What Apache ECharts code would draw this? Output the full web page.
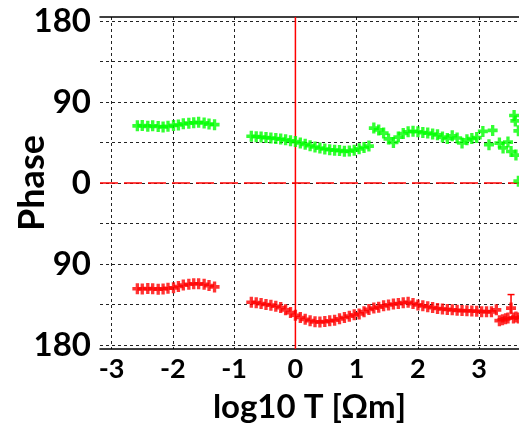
<!DOCTYPE html>
<html>
<head>
<meta charset="utf-8">
<script src="https://cdn.jsdelivr.net/npm/echarts@6/dist/echarts.min.js"></script>
<style>html,body{margin:0;padding:0;background:#fff;}#c{width:519px;height:433px;}</style>
</head>
<body>
<div id="c"></div>
<script>
// log10 period positions and phase values (degrees)
const greenLogT = [-2.58,-2.50,-2.41,-2.33,-2.24,-2.16,-2.08,-1.99,-1.91,-1.83,-1.74,-1.66,-1.58,-1.49,-1.41,-1.32,
  -0.72,-0.64,-0.56,-0.48,-0.40,-0.32,-0.24,-0.16,-0.08,0.00,0.08,0.16,0.24,0.32,0.40,0.48,0.56,0.64,0.72,0.80,0.88,0.96,1.04,1.12,1.20,
  1.28,1.36,1.44,1.52,1.60,1.68,1.76,1.84,1.92,2.00,2.08,2.16,2.24,2.32,2.40,2.48,2.56,2.64,2.72,2.80,2.88,2.96,
  3.06,3.16,3.22,3.33,3.39,3.47,3.52,3.57,3.59,3.60,3.64,3.64];
const greenPhase = [63.5,63.8,63.0,63.6,62.8,62.2,63.0,64.0,64.5,65.8,66.5,67.0,67.4,66.8,65.5,64.8,
  52.0,51.5,51.0,50.5,50.0,49.5,48.8,48.0,47.0,46.0,44.5,43.0,41.5,40.0,38.8,37.8,37.0,36.5,36.0,35.2,35.5,36.5,38.0,39.5,41.0,
  61.0,59.0,55.5,49.0,45.0,51.0,55.0,57.0,57.5,57.0,56.0,55.5,54.5,53.5,51.0,49.5,52.5,50.0,44.5,48.0,49.5,50.5,
  57.3,42.6,58.4,44.4,39.0,45.5,35.0,75.0,69.0,31.0,58.0,2.0];

const redLogT = [-2.58,-2.50,-2.41,-2.33,-2.24,-2.16,-2.08,-1.99,-1.91,-1.83,-1.74,-1.66,-1.58,-1.49,-1.41,-1.32,
  -0.72,-0.64,-0.56,-0.48,-0.40,-0.32,-0.24,-0.16,-0.08,0.00,0.08,0.16,0.24,0.32,0.40,0.48,0.56,0.64,0.72,0.80,0.88,0.96,1.04,1.12,1.20,
  1.28,1.36,1.44,1.52,1.60,1.68,1.76,1.84,1.92,2.00,2.08,2.16,2.24,2.32,2.40,2.48,2.56,2.64,2.72,2.80,2.88,2.96,3.04,3.12,3.20,3.28,
  3.33,3.38,3.43,3.47,3.52,3.56,3.60,3.64];
const redPhase = [-117.5,-117.8,-117.3,-117.6,-118.0,-117.7,-117.0,-116.5,-115.0,-113.5,-112.5,-112.0,-112.0,-112.5,-114.0,-115.5,
  -132.5,-133.0,-134.0,-135.0,-135.8,-137.0,-138.5,-141.0,-144.0,-147.0,-149.5,-151.5,-153.0,-154.3,-154.5,-154.0,-153.2,-152.5,-151.0,-149.5,-148.0,-146.5,-145.5,-143.0,-140.5,
  -139.0,-138.0,-136.5,-135.5,-134.5,-134.0,-133.0,-132.5,-134.0,-135.5,-136.5,-137.5,-138.5,-139.5,-140.0,-140.5,-141.0,-141.5,-141.8,-142.0,-142.3,-142.5,-143.0,-143.0,-143.2,-141.0,
  -153.0,-152.0,-151.0,-150.0,-139.0,-150.0,-149.0,-150.0];

// one error bar with a visible cap: [logT, upper, lower]
const redErrorBars = [[3.52, -124, -146]];

// red reference lines: [logT, phase] origin
const referenceOrigin = [[0, 0]];

const xTicks = [-3,-2,-1,0,1,2,3];
const yGrid = [-180,-135,-90,-45,0,45,90,135,180];
const yLabels = [-180,-90,0,90,180];

const plusPath = 'path://M0,3H3V0H6V3H9V6H6V9H3V6H0Z';
const fontFam = 'Lato, "Noto Sans", sans-serif';
const zip = (a, b) => a.map((v, i) => [v, b[i]]);

const chart = echarts.init(document.getElementById('c'), null, {renderer: 'canvas'});
chart.setOption({
  animation: false,
  backgroundColor: '#fff',
  grid: {left: 100, top: 17, right: 0, bottom: 84, containLabel: false, outerBoundsMode: 'none'},
  xAxis: [{
    type: 'value', min: -3.19, max: 3.65, position: 'bottom',
    axisLine: {show: true, onZero: false, lineStyle: {color: '#000', width: 1.5}},
    axisTick: {show: false, customValues: xTicks},
    axisLabel: {customValues: xTicks, color: '#000', fontFamily: fontFam, fontWeight: 'bold', fontSize: 27, margin: 7},
    splitLine: {show: true, lineStyle: {color: '#222', type: [3, 3], width: 1}},
    name: 'log10 T [Ωm]', nameLocation: 'middle', nameGap: 42, nameMoveOverlap: false,
    nameTextStyle: {color: '#000', fontFamily: fontFam, fontWeight: 'bold', fontSize: 33}
  }, {
    type: 'value', min: -3.19, max: 3.65, position: 'top',
    axisLine: {show: true, onZero: false, lineStyle: {color: '#000', width: 1.5}},
    axisTick: {show: false}, axisLabel: {show: false}, splitLine: {show: false}
  }],
  yAxis: {
    type: 'value', min: -184.5, max: 184.5,
    axisLine: {show: false},
    axisTick: {show: false, customValues: yGrid},
    axisLabel: {customValues: yLabels, formatter: v => String(Math.abs(v)), color: '#000',
      fontFamily: fontFam, fontWeight: 'bold', fontSize: 33, margin: 9},
    splitLine: {show: true, lineStyle: {color: '#222', type: [3, 3], width: 1}},
    name: 'Phase', nameLocation: 'middle', nameGap: 50, nameMoveOverlap: false,
    nameTextStyle: {color: '#000', fontFamily: fontFam, fontWeight: 'bold', fontSize: 36}
  },
  series: [{
    type: 'custom', data: referenceOrigin, z: 3, silent: true,
    renderItem: (params, api) => {
      const cs = params.coordSys;
      const o = api.coord([api.value(0), api.value(1)]);
      return {type: 'group', children: [
        {type: 'line', shape: {x1: cs.x, y1: o[1], x2: cs.x + cs.width, y2: o[1]},
          style: {stroke: '#ff0000', lineWidth: 1.5, lineDash: [18, 6]}},
        {type: 'line', shape: {x1: o[0], y1: cs.y, x2: o[0], y2: cs.y + cs.height},
          style: {stroke: '#ff0000', lineWidth: 1.5}}
      ]};
    }
  }, {
    type: 'scatter', name: 'green', data: zip(greenLogT, greenPhase), z: 4,
    symbol: plusPath, symbolSize: [10, 11], itemStyle: {color: '#00ff00'}, clip: true
  }, {
    type: 'scatter', name: 'red', data: zip(redLogT, redPhase), z: 4,
    symbol: plusPath, symbolSize: [10, 11], itemStyle: {color: '#ff0000'}, clip: true
  }, {
    type: 'custom', data: redErrorBars, z: 5,
    renderItem: (params, api) => {
      const x = api.value(0);
      const top = api.coord([x, api.value(1)]);
      const bot = api.coord([x, api.value(2)]);
      const s = {stroke: '#ff0000', lineWidth: 1.5};
      return {type: 'group', children: [
        {type: 'line', shape: {x1: top[0], y1: top[1], x2: bot[0], y2: bot[1]}, style: s},
        {type: 'line', shape: {x1: top[0] - 3.5, y1: top[1], x2: top[0] + 3.5, y2: top[1]}, style: s}
      ]};
    }
  }]
});
</script>
</body>
</html>
